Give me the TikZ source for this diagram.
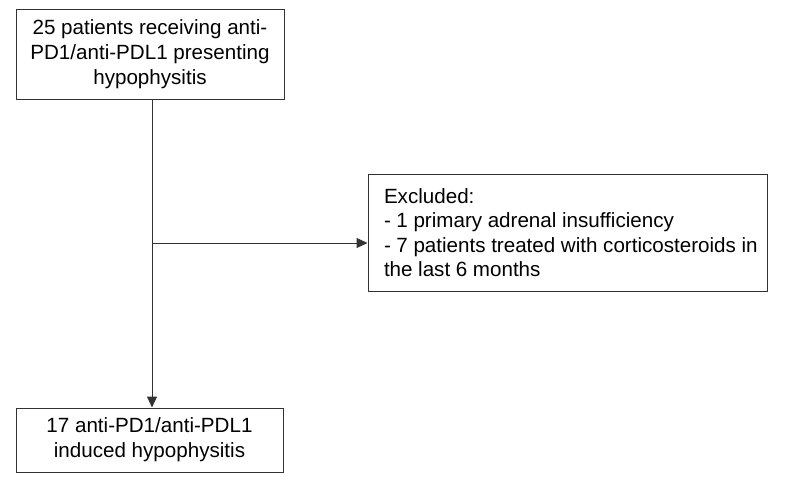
\documentclass[tikz,border=0pt]{standalone}
\usepackage{fontspec}
\setmainfont{Liberation Sans}
\usetikzlibrary{arrows.meta,positioning}

\newcommand{\tightwords}{\spaceskip=5.6pt\relax}

\begin{document}
\begin{tikzpicture}[
      x=1pt, y=-1pt,
      FlowBox/.style={
        draw=black!80, line width=1pt, inner sep=0pt,
        font=\fontsize{20.6}{25}\selectfont,
      },
      Link/.style={draw=black!80, line width=1pt},
      ]
      \useasboundingbox (0, 0) rectangle (786, 495);

      \node[FlowBox, minimum width=268pt, minimum height=89pt, align=center] (top) at (150, 54.5)
        {25 patients receiving anti-\\PD1/anti-PDL1 presenting\\hypophysitis};
      \node[FlowBox, minimum width=267pt, minimum height=64pt, align=center] (final) at (149.5, 440)
        {17 anti-PD1/anti-PDL1\\induced hypophysitis};
      \node[FlowBox, inner xsep=16pt, minimum height=117pt, text width=367pt, align=left,
            font=\fontsize{20.6}{24.5}\selectfont] (excl) at (567.5, 232.5)
        {\tightwords Excluded:\\\tightwords - 1 primary adrenal insufficiency\\\mbox{\tightwords - 7 patients treated with corticosteroids in}\\\tightwords the last 6 months};

      \coordinate (split) at (152, 243);

      \draw[Link, -{Triangle[length=11pt, width=10pt]}] (split |- top.south) -- (split |- final.north);
      \draw[Link, -{Triangle[length=11pt, width=10pt]}] (split) -- (split -| excl.west);
    \end{tikzpicture}
\end{document}
